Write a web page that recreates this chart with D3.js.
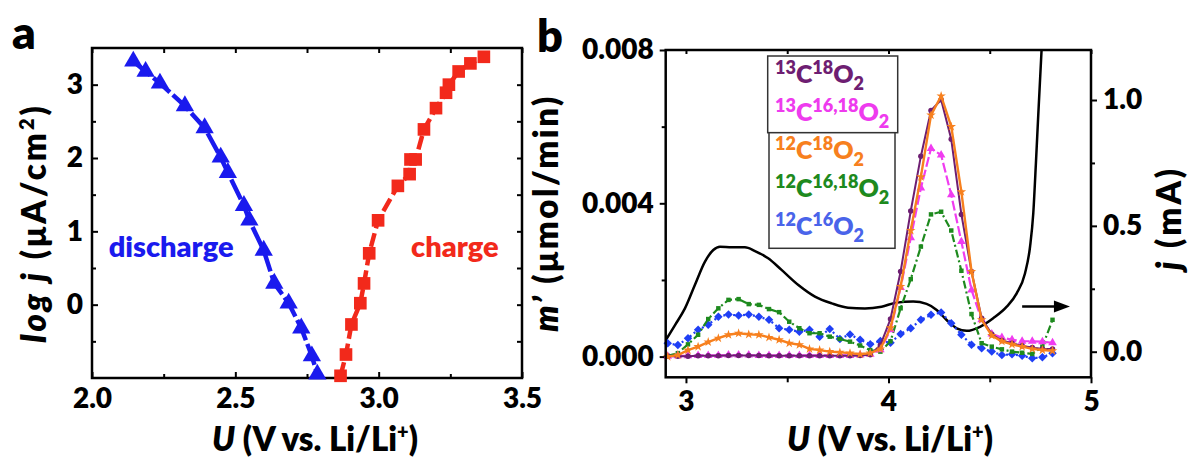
<!DOCTYPE html>
<html><head><meta charset="utf-8">
<script src="https://cdn.jsdelivr.net/npm/d3@7"></script>
<style>
body{margin:0;background:#fff;}
svg{display:block;font-family:Lato,'Open Sans',sans-serif;font-weight:800;}
</style></head><body>
<svg id="chart" width="1191" height="457"></svg>
<script>
// ---------- Panel a data ----------
const dischargeU = [2.144, 2.187, 2.237, 2.324, 2.393, 2.449, 2.474, 2.530, 2.549, 2.599, 2.636, 2.686, 2.730, 2.767, 2.786];
const dischargeLogJ = [3.32, 3.18, 3.02, 2.71, 2.41, 2.01, 1.80, 1.35, 1.15, 0.74, 0.29, 0.02, -0.32, -0.70, -0.95];
const chargeU = [2.867, 2.886, 2.905, 2.936, 2.949, 2.967, 2.998, 3.067, 3.108, 3.111, 3.129, 3.158, 3.200, 3.235, 3.245, 3.279, 3.320, 3.367];
const chargeLogJ = [-0.97, -0.68, -0.27, 0.02, 0.29, 0.70, 1.15, 1.62, 1.78, 1.98, 1.98, 2.39, 2.68, 2.89, 3.00, 3.18, 3.29, 3.38];
const aXTicks = [2.0, 2.5, 3.0, 3.5];
const aXMinor = [2.25, 2.75, 3.25];
const aYTicks = [0, 1, 2, 3];
const aYMinor = [-0.5, 0.5, 1.5, 2.5];

// ---------- Panel b data ----------
const voltages = [2.91,2.96,3.01,3.06,3.11,3.16,3.21,3.26,3.31,3.36,3.41,3.46,3.51,3.56,3.61,3.66,3.71,3.76,3.81,3.86,3.91,3.96,4.01,4.06,4.11,4.16,4.21,4.26,4.31,4.36,4.41,4.46,4.51,4.56,4.61,4.66,4.71,4.76,4.81];
const c13o18 = [0.00001,0.00001,0.00001,0.00002,0.00002,0.00002,0.00003,0.00003,0.00003,0.00003,0.00002,0.00002,0.00002,0.00002,0.00002,0.00002,0.00002,0.00002,0.00002,0.00003,0.00005,0.00030,0.00098,0.00222,0.00380,0.00523,0.00642,0.00670,0.00567,0.00371,0.00222,0.00100,0.00058,0.00042,0.00035,0.00028,0.00024,0.00020,0.00020];
const c13o1618 = [0.00001,0.00002,0.00002,0.00003,0.00003,0.00003,0.00004,0.00004,0.00004,0.00003,0.00003,0.00003,0.00003,0.00003,0.00003,0.00003,0.00003,0.00003,0.00003,0.00004,0.00006,0.00018,0.00070,0.00180,0.00310,0.00440,0.00543,0.00526,0.00422,0.00300,0.00174,0.00096,0.00059,0.00050,0.00044,0.00040,0.00040,0.00039,0.00036];
const c12o18 = [0.00000,0.00004,0.00017,0.00026,0.00038,0.00048,0.00057,0.00061,0.00058,0.00057,0.00050,0.00044,0.00035,0.00031,0.00020,0.00017,0.00013,0.00011,0.00009,0.00006,0.00009,0.00020,0.00075,0.00183,0.00329,0.00469,0.00630,0.00680,0.00600,0.00430,0.00222,0.00096,0.00055,0.00040,0.00032,0.00026,0.00020,0.00017,0.00015];
const c12o1618 = [0.00002,0.00009,0.00032,0.00057,0.00098,0.00126,0.00148,0.00150,0.00137,0.00135,0.00124,0.00116,0.00091,0.00074,0.00061,0.00061,0.00052,0.00046,0.00039,0.00029,0.00017,0.00013,0.00040,0.00126,0.00202,0.00287,0.00371,0.00378,0.00329,0.00224,0.00111,0.00035,0.00026,0.00019,0.00013,0.00010,0.00007,0.00026,0.00096];
const c12o16 = [0.00035,0.00030,0.00048,0.00070,0.00083,0.00104,0.00110,0.00107,0.00110,0.00104,0.00096,0.00074,0.00070,0.00065,0.00070,0.00052,0.00072,0.00046,0.00058,0.00044,0.00032,0.00041,0.00036,0.00059,0.00074,0.00096,0.00109,0.00115,0.00087,0.00057,0.00031,0.00022,0.00013,0.00004,0.00006,0.00002,-0.00004,-0.00002,0.00009];
const currentU = [2.90,2.946,2.995,3.044,3.094,3.135,3.168,3.226,3.291,3.341,3.406,3.472,3.555,3.637,3.72,3.80,3.884,3.966,4.04,4.122,4.188,4.238,4.287,4.337,4.386,4.452,4.517,4.584,4.633,4.674,4.699,4.715,4.728,4.74,4.756,4.765];
const currentJ = [0.045,0.106,0.172,0.265,0.358,0.404,0.417,0.415,0.415,0.400,0.371,0.325,0.265,0.219,0.192,0.175,0.172,0.179,0.195,0.199,0.190,0.166,0.126,0.093,0.083,0.099,0.133,0.179,0.232,0.311,0.417,0.550,0.749,0.947,1.20,1.35];
const bXTicks = [3, 4, 5];
const bXMinor = [3.5, 4.5];
const bYTicks = [0, 0.004, 0.008];
const bYMinor = [0.002, 0.006];
const bJTicks = [0, 0.5, 1.0];
const bJMinor = [0.25, 0.75];
const arrowU = [4.66, 4.896];
const arrowJ = 0.18;

// legend entries (order top→bottom), parts: [text, role]
const legendNames = [
  [["13","sup"],["C","n"],["18","sup"],["O","n"],["2","sub"]],
  [["13","sup"],["C","n"],["16,18","sup"],["O","n"],["2","sub"]],
  [["12","sup"],["C","n"],["18","sup"],["O","n"],["2","sub"]],
  [["12","sup"],["C","n"],["16,18","sup"],["O","n"],["2","sub"]],
  [["12","sup"],["C","n"],["16","sup"],["O","n"],["2","sub"]]
];

const FONT = "Lato,'Open Sans',sans-serif";
const TICKFS = 28;
const svg = d3.select('#chart');
svg.append('rect').attr('width',1191).attr('height',457).attr('fill','#fff');

function cleanAxis(g){
  g.attr('font-family', FONT).attr('font-size', TICKFS).attr('font-weight',800);
  g.select('.domain').remove();
  g.selectAll('.tick line').attr('stroke','#000').attr('stroke-width',2);
  g.selectAll('.tick text').attr('fill','#000');
}

// ================= Panel a =================
const xA = d3.scaleLinear().domain([2.0, 3.5]).range([92, 522]);
const yA = d3.scaleLinear().domain([-1, 3.5]).range([378, 48]);
const gA = svg.append('g');

gA.append('g').attr('transform',`translate(0,${yA(-1)})`)
  .call(d3.axisBottom(xA).tickValues(aXTicks).tickFormat(d3.format('.1f')).tickSizeInner(-6).tickSizeOuter(0).tickPadding(10))
  .call(cleanAxis);
gA.append('g').attr('transform',`translate(0,${yA(-1)})`)
  .call(d3.axisBottom(xA).tickValues(aXMinor).tickFormat('').tickSizeInner(-4).tickSizeOuter(0))
  .call(cleanAxis);
gA.append('g').attr('transform',`translate(0,${yA(3.5)})`)
  .call(d3.axisTop(xA).tickValues(aXTicks.concat(aXMinor)).tickFormat('').tickSizeInner(-5).tickSizeOuter(0))
  .call(cleanAxis);
gA.append('g').attr('transform',`translate(${xA(2.0)},0)`)
  .call(d3.axisLeft(yA).tickValues(aYTicks).tickFormat(d3.format('d')).tickSizeInner(-6).tickSizeOuter(0).tickPadding(9))
  .call(cleanAxis);
gA.append('g').attr('transform',`translate(${xA(2.0)},0)`)
  .call(d3.axisLeft(yA).tickValues(aYMinor).tickFormat('').tickSizeInner(-4).tickSizeOuter(0))
  .call(cleanAxis);
gA.append('g').attr('transform',`translate(${xA(3.5)},0)`)
  .call(d3.axisRight(yA).tickValues(aYTicks.concat(aYMinor)).tickFormat('').tickSizeInner(-5).tickSizeOuter(0))
  .call(cleanAxis);
gA.append('rect').attr('x',xA(2.0)).attr('y',yA(3.5)).attr('width',xA(3.5)-xA(2.0)).attr('height',yA(-1)-yA(3.5))
  .attr('fill','none').attr('stroke','#000').attr('stroke-width',2.5);

const dis = dischargeU.map((u,i)=>({u, v: dischargeLogJ[i]}));
const chg = chargeU.map((u,i)=>({u, v: chargeLogJ[i]}));
const lineA = d3.line().x(d=>xA(d.u)).y(d=>yA(d.v));
const BLUE_A = '#1a1aee', RED_A = '#f2291b';
gA.append('path').attr('d', lineA(dis)).attr('fill','none').attr('stroke',BLUE_A).attr('stroke-width',4.5).attr('stroke-dasharray','22,4');
gA.append('path').attr('d', lineA(chg)).attr('fill','none').attr('stroke',RED_A).attr('stroke-width',4.5).attr('stroke-dasharray','14,5');
gA.selectAll('.tri').data(dis).join('path').attr('class','tri')
  .attr('transform',d=>`translate(${xA(d.u)},${yA(d.v)})`)
  .attr('d', d3.symbol(d3.symbolTriangle, 145)()).attr('fill',BLUE_A);
gA.selectAll('.sq').data(chg).join('path').attr('class','sq')
  .attr('transform',d=>`translate(${xA(d.u)},${yA(d.v)})`)
  .attr('d', d3.symbol(d3.symbolSquare, 160)()).attr('fill',RED_A);

gA.append('text').attr('x',xA(2.276)).attr('y',yA(0.79)).attr('dy','0.35em').attr('text-anchor','middle')
  .attr('font-size',29).attr('fill',BLUE_A).text('discharge');
gA.append('text').attr('x',xA(3.266)).attr('y',yA(0.79)).attr('dy','0.35em').attr('text-anchor','middle')
  .attr('font-size',29).attr('fill',RED_A).text('charge');

// axis titles a
const xtA = gA.append('text').attr('x',315).attr('y',451).attr('text-anchor','middle').attr('font-size',33);
xtA.append('tspan').attr('font-style','italic').text('U');
xtA.append('tspan').text(' (V vs. Li/Li');
xtA.append('tspan').attr('font-size',20).attr('dy',-12).text('+');
xtA.append('tspan').attr('dy',12).text(')');

const ytA = gA.append('text').attr('transform','translate(46,223) rotate(-90)').attr('text-anchor','middle')
  .attr('font-size',33).attr('letter-spacing',3);
ytA.append('tspan').attr('font-style','italic').text('log j');
ytA.append('tspan').text(' (μA/cm');
ytA.append('tspan').attr('font-size',20).attr('dy',-12).text('2');
ytA.append('tspan').attr('dy',12).text(')');

svg.append('text').attr('x',12).attr('y',49).attr('font-size',46).text('a');
svg.append('text').attr('x',537).attr('y',52).attr('font-size',45).text('b');

// ================= Panel b =================
const xB = d3.scaleLinear().domain([2.9, 5.0]).range([665.7, 1091]);
const yB = d3.scaleLinear().domain([-0.00054, 0.008]).range([377.3, 50]);
const yJ = d3.scaleLinear().domain([-0.1017, 1.1987]).range([377.3, 50]);
const gB = svg.append('g');

gB.append('g').attr('transform',`translate(0,${yB.range()[0]})`)
  .call(d3.axisBottom(xB).tickValues(bXTicks).tickFormat(d3.format('d')).tickSizeInner(6).tickSizeOuter(0).tickPadding(8))
  .call(cleanAxis);
gB.append('g').attr('transform',`translate(0,${yB.range()[0]})`)
  .call(d3.axisBottom(xB).tickValues(bXMinor).tickFormat('').tickSizeInner(5).tickSizeOuter(0))
  .call(cleanAxis);
gB.append('g').attr('transform',`translate(0,${yB.range()[1]})`)
  .call(d3.axisTop(xB).tickValues(bXTicks.concat(bXMinor)).tickFormat('').tickSizeInner(-4).tickSizeOuter(0))
  .call(cleanAxis);
gB.append('g').attr('transform',`translate(${xB.range()[0]},0)`)
  .call(d3.axisLeft(yB).tickValues(bYTicks).tickFormat(d3.format('.3f')).tickSizeInner(6).tickSizeOuter(0).tickPadding(6))
  .call(cleanAxis);
gB.append('g').attr('transform',`translate(${xB.range()[0]},0)`)
  .call(d3.axisLeft(yB).tickValues(bYMinor).tickFormat('').tickSizeInner(4).tickSizeOuter(0))
  .call(cleanAxis);
gB.append('g').attr('transform',`translate(${xB.range()[1]},0)`)
  .call(d3.axisRight(yJ).tickValues(bJTicks).tickFormat(d3.format('.1f')).tickSizeInner(6).tickSizeOuter(0).tickPadding(6))
  .call(cleanAxis);
gB.append('g').attr('transform',`translate(${xB.range()[1]},0)`)
  .call(d3.axisRight(yJ).tickValues(bJMinor).tickFormat('').tickSizeInner(4).tickSizeOuter(0))
  .call(cleanAxis);

svg.append('defs').append('clipPath').attr('id','clipB').append('rect')
  .attr('x',xB.range()[0]).attr('y',yB.range()[1]).attr('width',xB.range()[1]-xB.range()[0]).attr('height',yB.range()[0]-yB.range()[1]);

// current (black)
const cur = currentU.map((u,i)=>({u, v: currentJ[i]}));
gB.append('path').attr('clip-path','url(#clipB)')
  .attr('d', d3.line().x(d=>xB(d.u)).y(d=>yJ(d.v)).curve(d3.curveMonotoneX)(cur))
  .attr('fill','none').attr('stroke','#000').attr('stroke-width',2.5);

const series = [
  {vals:c12o16,   color:'#1f3ff5', dash:'2,3',     sw:2.2, sym:d3.symbolDiamond2, size:46},
  {vals:c12o1618, color:'#1e8a1e', dash:'8,3,2,3', sw:2.2, sym:d3.symbolSquare,   size:20},
  {vals:c13o1618, color:'#f03cf0', dash:'10,3',    sw:2.2, sym:d3.symbolTriangle, size:32},
  {vals:c13o18,   color:'#6e1e72', dash:null,      sw:2,   sym:d3.symbolCircle,   size:24},
  {vals:c12o18,   color:'#f7801e', dash:null,      sw:2.4, sym:d3.symbolStar,     size:28}
];
const lineB = d3.line().x(d=>xB(d.u)).y(d=>yB(d.v));
series.forEach(s=>{
  const pts = voltages.map((u,i)=>({u, v:s.vals[i]}));
  const p = gB.append('path').attr('d', lineB(pts)).attr('fill','none').attr('stroke',s.color).attr('stroke-width',s.sw);
  if (s.dash) p.attr('stroke-dasharray', s.dash);
  gB.append('g').selectAll('path').data(pts).join('path')
    .attr('transform',d=>`translate(${xB(d.u)},${yB(d.v)})`)
    .attr('d', d3.symbol(s.sym, s.size)()).attr('fill', s.color);
});

// frame b
gB.append('rect').attr('x',xB.range()[0]).attr('y',yB.range()[1]).attr('width',xB.range()[1]-xB.range()[0]).attr('height',yB.range()[0]-yB.range()[1])
  .attr('fill','none').attr('stroke','#000').attr('stroke-width',2.5);

// arrow
const ax0 = xB(arrowU[0]), ax1 = xB(arrowU[1]), ay = yJ(arrowJ);
gB.append('line').attr('x1',ax0).attr('x2',ax1-12).attr('y1',ay).attr('y2',ay).attr('stroke','#000').attr('stroke-width',2.5);
gB.append('path').attr('d',`M${ax1},${ay}L${ax1-16},${ay-6}L${ax1-16},${ay+6}Z`).attr('fill','#000');

// legend
const legendColors = ['#6e1e72','#ee3bee','#f7801e','#1e8a1e','#4a64ea'];
const lg = gB.append('g');
lg.append('rect').attr('x',767.7).attr('y',56).attr('width',130).attr('height',76.7).attr('fill','#fff').attr('stroke','#333').attr('stroke-width',1.5);
lg.append('rect').attr('x',769).attr('y',132.7).attr('width',126).attr('height',115.6).attr('fill','#fff').attr('stroke','#333').attr('stroke-width',1.5);
const baselines = [83, 120.5, 158.5, 196.5, 235];
legendNames.forEach((parts,i)=>{
  const t = lg.append('text').attr('x',775).attr('y',baselines[i]).attr('font-size',25).attr('fill',legendColors[i]);
  let shift = 0;
  parts.forEach(([txt,role])=>{
    const target = role==='sup' ? -9 : role==='sub' ? 7 : 0;
    t.append('tspan').attr('dy', target - shift).attr('font-size', role==='n' ? 25 : 18).text(txt);
    shift = target;
  });
});

// axis titles b
const xtB = gB.append('text').attr('x',890).attr('y',451).attr('text-anchor','middle').attr('font-size',33);
xtB.append('tspan').attr('font-style','italic').text('U');
xtB.append('tspan').text(' (V vs. Li/Li');
xtB.append('tspan').attr('font-size',20).attr('dy',-12).text('+');
xtB.append('tspan').attr('dy',12).text(')');

const ytB = gB.append('text').attr('transform','translate(558,213) rotate(-90)').attr('text-anchor','middle')
  .attr('font-size',33).attr('letter-spacing',2.5);
ytB.append('tspan').attr('font-style','italic').text('m’');
ytB.append('tspan').text(' (μmol/min)');

const yjB = gB.append('text').attr('transform','translate(1181,218) rotate(-90)').attr('text-anchor','middle')
  .attr('font-size',33).attr('letter-spacing',3);
yjB.append('tspan').attr('font-style','italic').text('j');
yjB.append('tspan').text(' (mA)');
</script>
</body></html>
